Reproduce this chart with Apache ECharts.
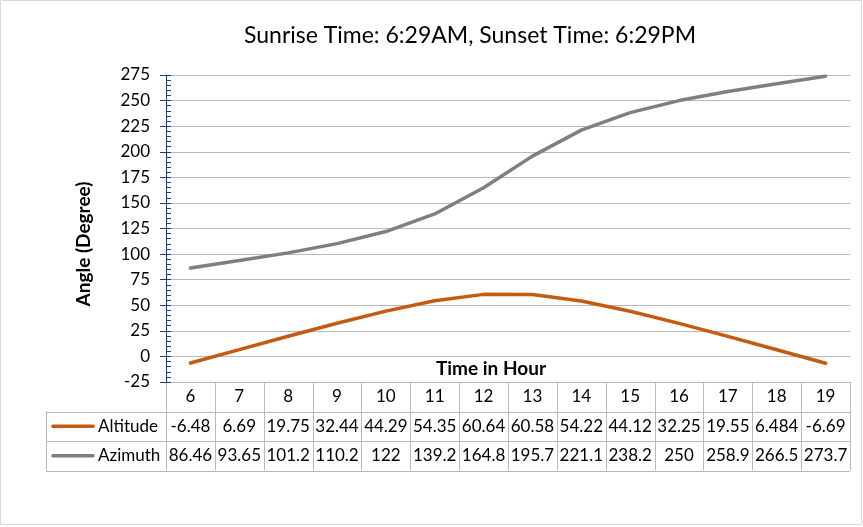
<!DOCTYPE html>
<html>
<head>
<meta charset="utf-8">
<script src="https://cdn.jsdelivr.net/npm/echarts@6.0.0/dist/echarts.min.js"></script>
<style>
  html, body { margin: 0; padding: 0; background: #fff; }
  #chart { width: 863px; height: 527px; }
</style>
</head>
<body>
<div id="chart"></div>
<script>
const hours = ['6', '7', '8', '9', '10', '11', '12', '13', '14', '15', '16', '17', '18', '19'];
const altitude = [-6.48, 6.69, 19.75, 32.44, 44.29, 54.35, 60.64, 60.58, 54.22, 44.12, 32.25, 19.55, 6.484, -6.69];
const azimuth = [86.46, 93.65, 101.2, 110.2, 122, 139.2, 164.8, 195.7, 221.1, 238.2, 250, 258.9, 266.5, 273.7];

const FONT = 'Lato, "Open Sans", sans-serif';
const ALT_COLOR = '#C55A11';
const AZI_COLOR = '#7F7F7F';
const GRID_COLOR = '#B9B9B9';
const AXIS_BLUE = '#1F3B73';

const chart = echarts.init(document.getElementById('chart'));

const yBase = {
  type: 'value',
  min: -25,
  max: 275,
  interval: 25,
  position: 'left'
};

const option = {
  animation: false,
  grid: { left: 166, right: 13, top: 75, bottom: 145, containLabel: false },
  xAxis: {
    type: 'category',
    data: hours,
    boundaryGap: true,
    axisLine: { show: false },
    axisTick: { show: false },
    axisLabel: { show: false },
    splitLine: { show: false }
  },
  yAxis: [
    Object.assign({}, yBase, {
      axisLine: { show: true, lineStyle: { color: AXIS_BLUE, width: 1 } },
      axisTick: { show: true, inside: false, length: 6, lineStyle: { color: AXIS_BLUE } },
      axisLabel: { color: '#000', fontSize: 17, fontFamily: FONT, margin: 16 },
      splitLine: { show: true, lineStyle: { color: GRID_COLOR, width: 1 } }
    }),
    // inside ticks: major cross-marks and minor ticks like the source chart
    Object.assign({}, yBase, {
      axisLine: { show: false },
      axisTick: { show: true, inside: true, length: 5, lineStyle: { color: AXIS_BLUE } },
      minorTick: { show: true, splitNumber: 5, length: 5, lineStyle: { color: AXIS_BLUE } },
      axisLabel: { show: false },
      splitLine: { show: false }
    })
  ],
  series: [
    {
      name: 'Altitude',
      type: 'line',
      data: altitude,
      showSymbol: false,
      lineStyle: { color: ALT_COLOR, width: 3.5, cap: 'round' },
      itemStyle: { color: ALT_COLOR }
    },
    {
      name: 'Azimuth',
      type: 'line',
      data: azimuth,
      showSymbol: false,
      lineStyle: { color: AZI_COLOR, width: 3.5, cap: 'round' },
      itemStyle: { color: AZI_COLOR }
    }
  ]
};

chart.setOption(option);

function crisp(v) { return Math.round(v) + 0.5; }

function hLine(x1, x2, y) {
  return { type: 'line', silent: true, shape: { x1: x1, y1: crisp(y), x2: x2, y2: crisp(y) },
    style: { stroke: GRID_COLOR, lineWidth: 1 } };
}
function vLine(x, y1, y2) {
  return { type: 'line', silent: true, shape: { x1: crisp(x), y1: y1, x2: crisp(x), y2: y2 },
    style: { stroke: GRID_COLOR, lineWidth: 1 } };
}
function label(text, x, y, font, align) {
  return { type: 'text', silent: true, x: x, y: y,
    style: { text: text, font: font, fill: '#000', align: align || 'center', verticalAlign: 'middle' } };
}

// data table under the plot, laid out from the category axis
function buildTable() {
  const x0 = chart.convertToPixel({ xAxisIndex: 0 }, hours[0]);
  const x1 = chart.convertToPixel({ xAxisIndex: 0 }, hours[1]);
  const colW = x1 - x0;
  const tableLeft = x0 - colW / 2;
  const tableRight = tableLeft + colW * hours.length;
  const top = chart.convertToPixel({ yAxisIndex: 0 }, -25);
  const rowH = 29.5;
  const legendLeft = 46;
  const rows = [top, top + rowH, top + rowH * 2, top + rowH * 3];
  const els = [];

  els.push(hLine(legendLeft, tableRight, rows[1]));
  els.push(hLine(legendLeft, tableRight, rows[2]));
  els.push(hLine(legendLeft, tableRight, rows[3]));
  els.push(vLine(legendLeft, rows[1], rows[3]));
  for (let i = 0; i <= hours.length; i++) {
    els.push(vLine(tableLeft + colW * i, rows[0], rows[3]));
  }

  const cellFont = '17px ' + FONT;
  hours.forEach((h, i) => {
    const cx = x0 + colW * i;
    els.push(label(h, cx, (rows[0] + rows[1]) / 2, cellFont));
    els.push(label(String(altitude[i]), cx, (rows[1] + rows[2]) / 2, cellFont));
    els.push(label(String(azimuth[i]), cx, (rows[2] + rows[3]) / 2, cellFont));
  });

  const legendRows = [
    { name: 'Altitude', color: ALT_COLOR, y: (rows[1] + rows[2]) / 2 },
    { name: 'Azimuth', color: AZI_COLOR, y: (rows[2] + rows[3]) / 2 }
  ];
  legendRows.forEach(r => {
    els.push({ type: 'line', silent: true, shape: { x1: 53, y1: r.y, x2: 93, y2: r.y },
      style: { stroke: r.color, lineWidth: 3.5, lineCap: 'round' } });
    els.push(label(r.name, 98, r.y, cellFont, 'left'));
  });

  // chart title and axis titles
  els.push(label('Sunrise Time: 6:29AM, Sunset Time: 6:29PM', 470, 36, '23px ' + FONT));
  els.push(label('Time in Hour', 491, 369, 'bold 19px ' + FONT));
  els.push({ type: 'text', silent: true, x: 84, y: 244, rotation: Math.PI / 2,
    style: { text: 'Angle (Degree)', font: 'bold 19px ' + FONT, fill: '#000', align: 'center', verticalAlign: 'middle' } });

  // outer chart border
  els.push({ type: 'rect', silent: true, shape: { x: 0.5, y: 0.5, width: 861, height: 524 },
    style: { fill: null, stroke: '#D9D9D9', lineWidth: 1 } });

  chart.setOption({ graphic: els });
}

buildTable();
window.addEventListener('resize', () => { chart.resize(); buildTable(); });
</script>
</body>
</html>
